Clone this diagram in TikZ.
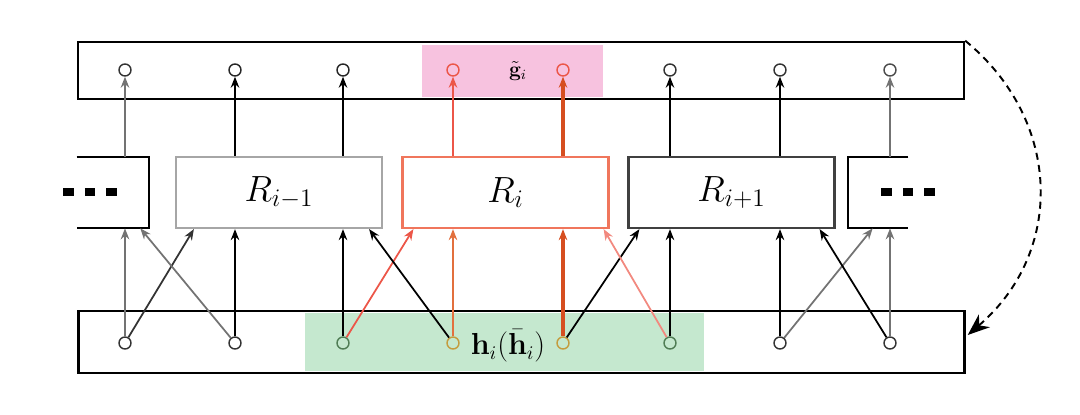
\documentclass[tikz,border=0pt]{standalone}
\usepackage{tikz}
\usetikzlibrary{arrows.meta,calc}
\definecolor{rnRed}{RGB}{236,86,72}
\definecolor{rnOrange}{RGB}{214,78,32}
\definecolor{rnCopper}{RGB}{226,112,62}
\definecolor{rnBox}{RGB}{240,118,92}
\definecolor{rnPink}{RGB}{247,194,223}
\definecolor{rnGreen}{RGB}{197,232,207}
\definecolor{rnOlive}{RGB}{80,125,85}
\definecolor{rnGold}{RGB}{196,156,62}
\newcommand{\threedash}{\rule{0.21cm}{0.15cm}\hspace{0.22cm}\rule{0.21cm}{0.15cm}\hspace{0.22cm}\rule{0.21cm}{0.15cm}}

\begin{document}
\begin{tikzpicture}[x=0.02cm,y=-0.02cm,
      bar/.style={draw,line width=1.5pt,minimum width=17.72cm,minimum height=1.14cm,inner sep=0},
      patch/.style={inner sep=0},
      blk/.style={draw,line width=1.3pt,minimum width=4.12cm,minimum height=1.42cm,
                  font=\fontsize{22}{26}\selectfont},
      part/.style={minimum height=1.42cm,inner sep=0},
      dot/.style={circle,draw,line width=0.8pt,minimum size=0.24cm,inner sep=0},
      arr/.style={-{Stealth[length=2.2mm,width=1.7mm]},line width=1pt}]
    \useasboundingbox (0,0) rectangle (1080,415);
    % highlighted groups
    \node[patch,fill=rnPink,minimum width=3.62cm,minimum height=1.04cm] (gbox) at (512.5,71) {};
    \node[patch,fill=rnGreen,minimum width=7.98cm,minimum height=1.16cm] (hbox) at (504.5,342) {};
    \node[bar] (top) at (521,70.5) {};
    \node[bar,minimum height=1.24cm] (bot) at (521.5,342) {};
    \foreach \n/\x/\c in {1/125/black!80,2/235/black!85,3/343/black!85,4/453/rnRed,
                          5/563/rnRed,6/670/black!80,7/780/black!80,8/890/black!70}
      \node[dot,draw=\c] (g\n) at (\x,70) {};
    \foreach \n/\x/\c in {1/125/black!80,2/235/black!80,3/343/rnOlive,4/453/rnGold,
                          5/563/rnGold,6/670/rnOlive,7/780/black!80,8/890/black!80}
      \node[dot,draw=\c] (h\n) at (\x,343) {};
    \node[font=\fontsize{12}{14}\selectfont] (gl) at (518,71) {$\tilde{\mathbf{g}}_i$};
    \node[font=\fontsize{16}{19}\selectfont,inner sep=1pt] (hl) at (508,346) {$\mathbf{h}_i(\bar{\mathbf{h}}_i)$};
    % recurrent units
    \node[blk,draw=black!35] (rm) at (279,192.5) {$R_{i-1}$};
    \node[blk,draw=rnBox] (ri) at (505.5,192.5) {$R_i$};
    \node[blk,draw=black!75] (rp) at (731.5,192.5) {$R_{i+1}$};
    \node[part,minimum width=1.44cm] (pl) at (113,192.5) {};
    \node[part,minimum width=1.2cm] (pr) at (878,192.5) {};
    \draw[line width=1.3pt] (pl.north west) -- (pl.north east) -- (pl.south east) -- (pl.south west);
    \draw[line width=1.3pt] (pr.north east) -- (pr.north west) -- (pr.south west) -- (pr.south east);
    \node (dl) at (90,192) {\threedash};
    \node (dr) at (908,192) {\threedash};
    % outputs
    \draw[arr,black!55,line width=1.3pt] (g1 |- pl.north) -- (g1);
    \draw[arr] (g2 |- rm.north) -- (g2);
    \draw[arr] (g3 |- rm.north) -- (g3);
    \draw[arr,rnRed] (g4 |- ri.north) -- (g4);
    \draw[arr,rnOrange,line width=2pt] (g5 |- ri.north) -- (g5);
    \draw[arr] (g6 |- rp.north) -- (g6);
    \draw[arr] (g7 |- rp.north) -- (g7);
    \draw[arr,black!55] (g8 |- pr.north) -- (g8);
    % inputs
    \draw[arr,black!55,line width=1.3pt] (h1) -- (h1 |- pl.south);
    \draw[arr,black!80] (h1) -- ($(rm.south west)+(19,0)$);
    \draw[arr,black!55] (h2) -- ($(pl.south east)+(-9,0)$);
    \draw[arr] (h2) -- (h2 |- rm.south);
    \draw[arr] (h3) -- (h3 |- rm.south);
    \draw[arr,rnRed] (h3) -- ($(ri.south west)+(12,0)$);
    \draw[arr] (h4) -- ($(rm.south east)+(-14,0)$);
    \draw[arr,rnCopper] (h4) -- (h4 |- ri.south);
    \draw[arr,rnOrange,line width=2pt] (h5) -- (h5 |- ri.south);
    \draw[arr] (h5) -- ($(rp.south west)+(12,0)$);
    \draw[arr,rnRed!70] (h6) -- ($(ri.south east)+(-6,0)$);
    \draw[arr] (h6) -- (h6 |- rp.south);
    \draw[arr] (h7) -- (h7 |- rp.south);
    \draw[arr,black!55] (h7) -- ($(pr.south west)+(25,0)$);
    \draw[arr] (h8) -- ($(rp.south east)+(-16,0)$);
    \draw[arr,black!55] (h8) -- (h8 |- pr.south);
    % feedback
    \draw[line width=1.1pt,dash pattern=on 4pt off 3pt,-{Stealth[length=4.4mm,width=3.4mm]}]
      (top.north east) to[bend left=50,looseness=1.1] ($(bot.east)+(2,-7)$);
  \end{tikzpicture}
\end{document}
